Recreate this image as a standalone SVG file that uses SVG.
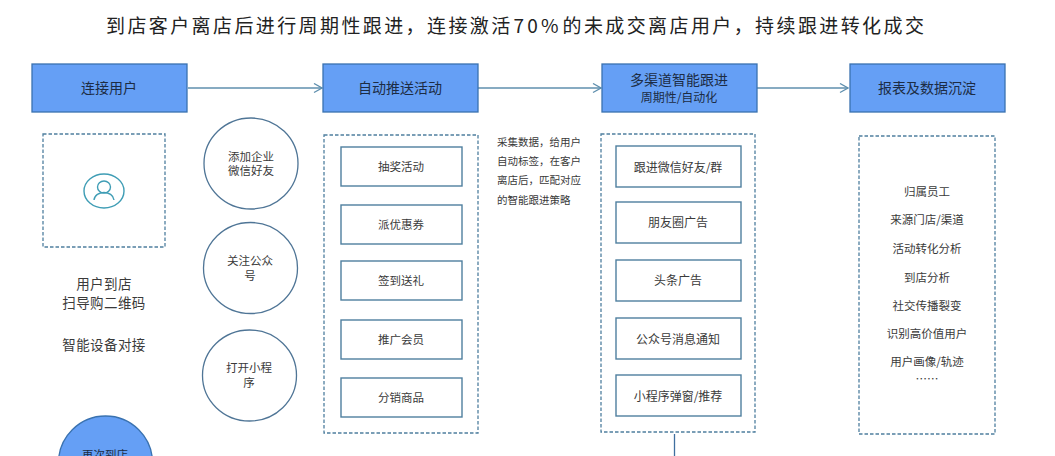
<svg xmlns="http://www.w3.org/2000/svg" width="1055" height="456" viewBox="0 0 1055 456">
<defs>
<marker id="arr" markerWidth="10" markerHeight="12" refX="9" refY="5" orient="auto" markerUnits="userSpaceOnUse"><path d="M1 0.500L9 5L1 9.500" fill="none" stroke="#5f8fae" stroke-width="1.3"/></marker>
</defs>
<style>
text{font-family:"Noto Sans CJK SC","Noto Sans",sans-serif;text-anchor:middle;fill:#3a3a3a}
.head{fill:#659ff5;stroke:#3a72b0;stroke-width:1.3}
.dash{fill:#fff;stroke:#4f7f9f;stroke-width:1.3;stroke-dasharray:3.500 2}
.box{fill:#fff;stroke:#4f7f9f;stroke-width:1.4}
.circ{fill:#fff;stroke:#4f7596;stroke-width:1.3}
.h{font-size:14px;fill:#1c2c44}
.c{font-size:11.500px}
.n{font-size:10.500px;text-anchor:start}
.u{font-size:13.500px;letter-spacing:0.400px}
.r{font-size:11.500px}
.w{font-size:12px}
.link{fill:none;stroke:#5f8fae;stroke-width:1.5}
#title{text-anchor:start;font-size:19px;fill:#222;letter-spacing:2.4px}
</style>
<rect width="1055" height="456" fill="#fff"/>
<text id="title" y="33"><tspan x="106">到店客户离店后进行周期性跟进，连接激活</tspan><tspan x="513.500" letter-spacing="3.200">70%</tspan><tspan x="562.500">的未成交离店用户，持续跟进转化成交</tspan></text>
<g id="connectors">
<path class="link" marker-end="url(#arr)" d="M188 88H322"/>
<path class="link" marker-end="url(#arr)" d="M478 88H601"/>
<path class="link" marker-end="url(#arr)" d="M757 88H848"/>
<path d="M674.500 434V456" fill="none" stroke="#3f6f9f" stroke-width="1.3"/>
</g>
<g id="n-connect"><rect class="head" x="32" y="64" width="155" height="48"/><text class="h" x="109" y="93">连接用户</text></g>
<g id="n-auto"><rect class="head" x="323" y="64" width="155" height="48"/><text class="h" x="400" y="93">自动推送活动</text></g>
<g id="n-multi"><rect class="head" x="602" y="64" width="155" height="48"/><text class="h" x="679" y="85">多渠道智能跟进</text><text x="679" y="102" font-size="12" style="fill:#1c2c44">周期性/自动化</text></g>
<g id="n-report"><rect class="head" x="850" y="64" width="155" height="48"/><text class="h" x="927" y="93">报表及数据沉淀</text></g>
<g id="n-user"><rect class="dash" x="43" y="134" width="122" height="113"/>
<ellipse cx="104" cy="191" rx="20" ry="17" fill="none" stroke="#3f9db5" stroke-width="1.4"/><ellipse cx="104" cy="187" rx="6.500" ry="6" fill="none" stroke="#3f9db5" stroke-width="1.4"/><path d="M94 200C95 190 113 190 114 200" fill="none" stroke="#3f9db5" stroke-width="1.4"/></g>
<g id="n-scan"><text class="u" x="104" y="289">用户到店</text><text class="u" x="104" y="307.500">扫导购二维码</text></g>
<g id="n-device"><text class="u" x="104" y="350">智能设备对接</text></g>
<g id="n-again"><circle cx="105.500" cy="463" r="47" fill="#659ff5" stroke="#3a72b0" stroke-width="1.3"/><text class="c" x="105" y="459" style="fill:#1c2c44">再次到店</text></g>
<g id="n-c1"><ellipse class="circ" cx="251" cy="163.500" rx="47" ry="45.500"/><text class="c" x="251" y="161">添加企业</text><text class="c" x="251" y="175">微信好友</text></g>
<g id="n-c2"><ellipse class="circ" cx="250.500" cy="268" rx="47" ry="45.500"/><text class="c" x="250" y="265">关注公众</text><text class="c" x="250" y="280">号</text></g>
<g id="n-c3"><ellipse class="circ" cx="249.500" cy="375.500" rx="47" ry="45.500"/><text class="c" x="249" y="372">打开小程</text><text class="c" x="249" y="387">序</text></g>
<g id="n-list1"><rect class="dash" x="324" y="135" width="154" height="298"/></g>
<g id="n-a1"><rect class="box" x="341" y="147" width="121" height="39"/><text class="r" x="401" y="171">抽奖活动</text></g>
<g id="n-a2"><rect class="box" x="341" y="205" width="121" height="39"/><text class="r" x="401" y="229">派优惠券</text></g>
<g id="n-a3"><rect class="box" x="341" y="261" width="121" height="39"/><text class="r" x="401" y="285">签到送礼</text></g>
<g id="n-a4"><rect class="box" x="341" y="320" width="121" height="39"/><text class="r" x="401" y="344">推广会员</text></g>
<g id="n-a5"><rect class="box" x="341" y="378" width="121" height="39"/><text class="r" x="401" y="402">分销商品</text></g>
<g id="n-note"><text class="n" x="497" y="146">采集数据，给用户</text><text class="n" x="497" y="165">自动标签，在客户</text><text class="n" x="497" y="184">离店后，匹配对应</text><text class="n" x="497" y="204">的智能跟进策略</text></g>
<g id="n-list2"><rect class="dash" x="601" y="134" width="154" height="298"/></g>
<g id="n-b1"><rect class="box" x="616" y="146" width="125" height="41"/><text class="w" x="678" y="172">跟进微信好友/群</text></g>
<g id="n-b2"><rect class="box" x="616" y="202" width="125" height="41"/><text class="w" x="678" y="227">朋友圈广告</text></g>
<g id="n-b3"><rect class="box" x="616" y="260" width="125" height="41"/><text class="w" x="678" y="285">头条广告</text></g>
<g id="n-b4"><rect class="box" x="616" y="318" width="125" height="41"/><text class="w" x="678" y="344">公众号消息通知</text></g>
<g id="n-b5"><rect class="box" x="616" y="375" width="125" height="41"/><text class="w" x="678" y="401">小程序弹窗/推荐</text></g>
<g id="n-list3"><rect class="dash" x="859" y="136" width="136" height="298"/>
<text class="r" x="927" y="196">归属员工</text><text class="r" x="927" y="224">来源门店/渠道</text><text class="r" x="927" y="253">活动转化分析</text><text class="r" x="927" y="282">到店分析</text><text class="r" x="927" y="310">社交传播裂变</text><text class="r" x="927" y="338">识别高价值用户</text><text class="r" x="927" y="366">用户画像/轨迹</text><text class="r" x="927" y="383">……</text></g>
</svg>
